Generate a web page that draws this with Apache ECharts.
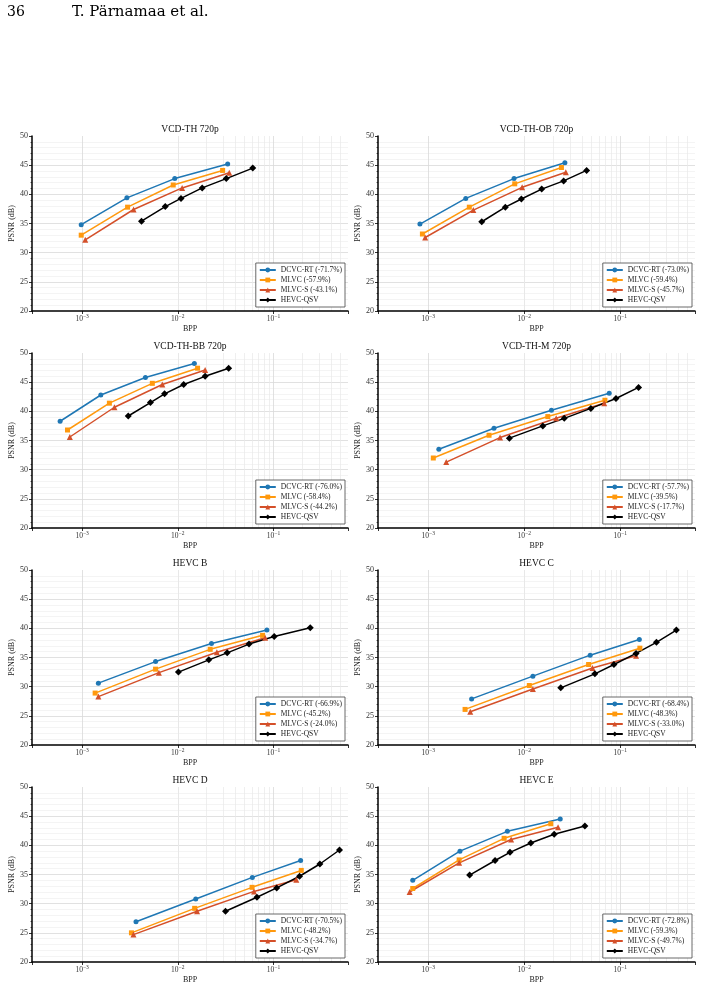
<!DOCTYPE html>
<html>
<head>
<meta charset="utf-8">
<script src="https://cdn.jsdelivr.net/npm/echarts@6/dist/echarts.min.js"></script>
<style>
  html, body { margin: 0; padding: 0; background: #fff; }
  #chart { width: 701px; height: 989px; }
</style>
</head>
<body>
<div id="chart"></div>
<script>
// 8 subplots
const titles = ['VCD-TH 720p', 'VCD-TH-OB 720p', 'VCD-TH-BB 720p', 'VCD-TH-M 720p',
  'HEVC B', 'HEVC C', 'HEVC D', 'HEVC E'];

const dcvcRtSaving = ['-71.7%', '-73.0%', '-76.0%', '-57.7%', '-66.9%', '-68.4%', '-70.5%', '-72.8%'];
const mlvcSaving = ['-57.9%', '-59.4%', '-58.4%', '-39.5%', '-45.2%', '-48.3%', '-48.2%', '-59.3%'];
const mlvcSSaving = ['-43.1%', '-45.7%', '-44.2%', '-17.7%', '-24.0%', '-33.0%', '-34.7%', '-49.7%'];

const dcvcRtBpp = [
  [0.00098, 0.00294, 0.0093, 0.0332],
  [0.00082, 0.00246, 0.00783, 0.0265],
  [0.00059, 0.00157, 0.00459, 0.0149],
  [0.00129, 0.00484, 0.0192, 0.0767],
  [0.00148, 0.00586, 0.0225, 0.0853],
  [0.00283, 0.0123, 0.0486, 0.158],
  [0.00366, 0.0154, 0.0601, 0.192],
  [0.00069, 0.00214, 0.00667, 0.0237]
];
const dcvcRtPsnr = [
  [34.8, 39.4, 42.7, 45.2],
  [34.9, 39.3, 42.7, 45.4],
  [38.3, 42.8, 45.8, 48.2],
  [33.5, 37.1, 40.2, 43.1],
  [30.6, 34.3, 37.4, 39.7],
  [27.9, 31.8, 35.4, 38.1],
  [26.9, 30.8, 34.5, 37.4],
  [34.0, 39.0, 42.4, 44.5]
];

const mlvcBpp = [
  [0.00098, 0.00299, 0.00896, 0.0294],
  [0.00087, 0.00268, 0.00796, 0.0244],
  [0.000705, 0.00193, 0.00542, 0.0161],
  [0.00113, 0.0043, 0.0176, 0.0692],
  [0.00137, 0.00586, 0.0218, 0.0769],
  [0.00242, 0.0113, 0.0468, 0.16],
  [0.00328, 0.015, 0.0597, 0.195],
  [0.00069, 0.0021, 0.00617, 0.0189]
];
const mlvcPsnr = [
  [33.0, 37.8, 41.6, 44.1],
  [33.2, 37.8, 41.8, 44.6],
  [36.8, 41.4, 44.8, 47.4],
  [32.0, 35.9, 39.1, 41.9],
  [28.9, 33.0, 36.4, 38.8],
  [26.1, 30.2, 33.8, 36.6],
  [25.0, 29.2, 32.8, 35.7],
  [32.6, 37.5, 41.2, 43.7]
];

const mlvcSBpp = [
  [0.00108, 0.00345, 0.0111, 0.0345],
  [0.00093, 0.00295, 0.0095, 0.0271],
  [0.000745, 0.00218, 0.00689, 0.0193],
  [0.00154, 0.0056, 0.0215, 0.068],
  [0.00148, 0.00635, 0.0256, 0.0818],
  [0.00274, 0.0123, 0.0514, 0.146],
  [0.00344, 0.0159, 0.0625, 0.173],
  [0.00064, 0.0021, 0.0073, 0.0225]
];
const mlvcSPsnr = [
  [32.2, 37.4, 41.1, 43.7],
  [32.6, 37.3, 41.2, 43.8],
  [35.6, 40.7, 44.6, 47.1],
  [31.3, 35.5, 38.8, 41.4],
  [28.3, 32.4, 35.9, 38.4],
  [25.7, 29.6, 33.2, 35.3],
  [24.7, 28.7, 32.1, 34.1],
  [32.0, 37.0, 41.0, 43.1]
];

const hevcBpp = [
  [0.00418, 0.0074, 0.0108, 0.018, 0.0321, 0.0607],
  [0.00361, 0.00635, 0.00933, 0.0152, 0.0257, 0.0446],
  [0.00304, 0.00518, 0.00728, 0.01153, 0.0193, 0.034],
  [0.007, 0.0156, 0.0261, 0.0494, 0.0902, 0.155],
  [0.01016, 0.0211, 0.0328, 0.0555, 0.1016, 0.242],
  [0.024, 0.0544, 0.0859, 0.146, 0.238, 0.384],
  [0.0315, 0.0671, 0.108, 0.187, 0.305, 0.489],
  [0.0027, 0.00497, 0.00711, 0.0117, 0.0205, 0.0428]
];
const hevcPsnr = [
  [35.4, 37.9, 39.3, 41.1, 42.7, 44.5],
  [35.3, 37.8, 39.2, 40.9, 42.3, 44.1],
  [39.2, 41.5, 43.0, 44.6, 46.0, 47.4],
  [35.4, 37.5, 38.8, 40.5, 42.2, 44.1],
  [32.5, 34.6, 35.8, 37.3, 38.6, 40.1],
  [29.8, 32.2, 33.8, 35.7, 37.6, 39.7],
  [28.7, 31.1, 32.7, 34.7, 36.8, 39.2],
  [34.9, 37.4, 38.8, 40.4, 41.9, 43.3]
];

const colors = { dcvc: '#1f77b4', mlvc: '#ff990e', mlvcS: '#d4502a', hevc: '#000000' };
const serif = '"Liberation Serif", "DejaVu Serif", serif';

// layout of the 4x2 panel grid
const colLeft = [32, 378];
const colWidth = [316, 317];
const rowTop = [136, 353, 570, 787];
const plotH = 175;
const xMin = 0.0003, xMax = 0.6;

// light minor grid lines at 2..9 x 10^k
const minorX = [];
[0.0001, 0.001, 0.01, 0.1].forEach(d => {
  for (let k = 2; k <= 9; k++) {
    const v = +(d * k).toPrecision(3);
    if (v > xMin && v < xMax) minorX.push(v);
  }
});

const grid = [], xAxis = [], yAxis = [], series = [], legend = [], graphic = [];

function pair(xs, ys) { return xs.map((x, j) => [x, ys[j]]); }

for (let i = 0; i < 8; i++) {
  const c = i % 2, r = Math.floor(i / 2);
  const left = colLeft[c], top = rowTop[r], w = colWidth[c];
  grid.push({ left: left, top: top, width: w, height: plotH });

  xAxis.push({
    type: 'log', logBase: 10, gridIndex: i, min: xMin, max: xMax,
    name: 'BPP', nameLocation: 'middle', nameGap: 14,
    nameTextStyle: { fontFamily: serif, fontSize: 8, color: '#222' },
    axisLine: { lineStyle: { color: '#000', width: 1.5 } },
    axisTick: { length: 3, lineStyle: { color: '#000', width: 0.8 } },
    axisLabel: {
      margin: 3, color: '#333', fontFamily: serif, fontSize: 7.5,
      formatter: v => {
        const e = Math.log10(v);
        if (Math.abs(e - Math.round(e)) > 1e-6) return '';
        return '{b|10}{s|\u2212' + (-Math.round(e)) + '}';
      },
      rich: {
        b: { fontFamily: serif, fontSize: 7.5, color: '#333' },
        s: { fontFamily: serif, fontSize: 5.5, color: '#333', padding: [0, 0, 5, 0] }
      }
    },
    splitLine: { show: true, showMinLine: false, showMaxLine: false, lineStyle: { color: '#d9d9d9', width: 0.8 } }
  });

  yAxis.push({
    type: 'value', gridIndex: i, min: 20, max: 50, interval: 5,
    name: 'PSNR (dB)', nameLocation: 'middle', nameGap: 16, nameRotate: 90,
    nameTextStyle: { fontFamily: serif, fontSize: 8, color: '#222' },
    axisLine: { show: true, lineStyle: { color: '#000', width: 1.5 } },
    axisTick: { show: true, length: 3, lineStyle: { color: '#000', width: 0.8 } },
    minorTick: { show: true, splitNumber: 5, length: 1.5, lineStyle: { color: '#000', width: 0.6 } },
    axisLabel: { margin: 4, color: '#333', fontFamily: serif, fontSize: 8 },
    splitLine: { show: true, showMinLine: false, showMaxLine: false, lineStyle: { color: '#d9d9d9', width: 0.8 } },
    minorSplitLine: { show: true, lineStyle: { color: '#ededed', width: 0.6 } }
  });

  // helper series that only carries the vertical minor grid lines
  series.push({
    type: 'line', xAxisIndex: i, yAxisIndex: i, data: [], silent: true, z: 0,
    markLine: {
      z: 0, silent: true, symbol: 'none', animation: false, label: { show: false },
      lineStyle: { color: '#e8e8e8', width: 0.7, type: 'solid' },
      emphasis: { disabled: true },
      data: minorX.map(v => ({ xAxis: v }))
    }
  });

  const names = [
    'DCVC-RT (' + dcvcRtSaving[i] + ')',
    'MLVC (' + mlvcSaving[i] + ')',
    'MLVC-S (' + mlvcSSaving[i] + ')',
    'HEVC-QSV'
  ];
  const defs = [
    [names[0], pair(dcvcRtBpp[i], dcvcRtPsnr[i]), colors.dcvc, 'circle', 5],
    [names[1], pair(mlvcBpp[i], mlvcPsnr[i]), colors.mlvc, 'rect', 5],
    [names[2], pair(mlvcSBpp[i], mlvcSPsnr[i]), colors.mlvcS, 'triangle', 6],
    [names[3], pair(hevcBpp[i], hevcPsnr[i]), colors.hevc, 'diamond', 7]
  ];
  defs.forEach(d => {
    series.push({
      name: d[0], type: 'line', xAxisIndex: i, yAxisIndex: i, data: d[1],
      symbol: d[3], symbolSize: d[4], showSymbol: true, z: 3,
      lineStyle: { color: d[2], width: 1.5 },
      itemStyle: { color: d[2] }
    });
  });

  legend.push({
    data: names, orient: 'vertical',
    right: 701 - (left + w - 3), bottom: 989 - (top + plotH - 4),
    itemWidth: 16, itemHeight: 6, itemGap: 2, padding: [3, 3, 3, 3],
    borderColor: '#444', borderWidth: 0.8, backgroundColor: '#fff',
    textStyle: { fontFamily: serif, fontSize: 7.5, color: '#222' },
    selectedMode: false, z: 10
  });

  graphic.push({
    type: 'text', x: left + w / 2, y: top - 7,
    style: { text: titles[i], textAlign: 'center', textVerticalAlign: 'middle',
      font: '9.5px ' + serif, fill: '#111' }
  });
}

// running page header
const headSerif = '"DejaVu Serif", "Liberation Serif", serif';
graphic.push({ type: 'text', x: 7, y: 12,
  style: { text: '36', textVerticalAlign: 'middle', font: '14px ' + headSerif, fill: '#000' } });
graphic.push({ type: 'text', x: 72, y: 12,
  style: { text: 'T. P\u00e4rnamaa et al.', textVerticalAlign: 'middle', font: '15px ' + headSerif, fill: '#000' } });

const chart = echarts.init(document.getElementById('chart'), null, { renderer: 'canvas' });
chart.setOption({
  animation: false,
  backgroundColor: '#fff',
  grid, xAxis, yAxis, series, legend, graphic
});
</script>
</body>
</html>
